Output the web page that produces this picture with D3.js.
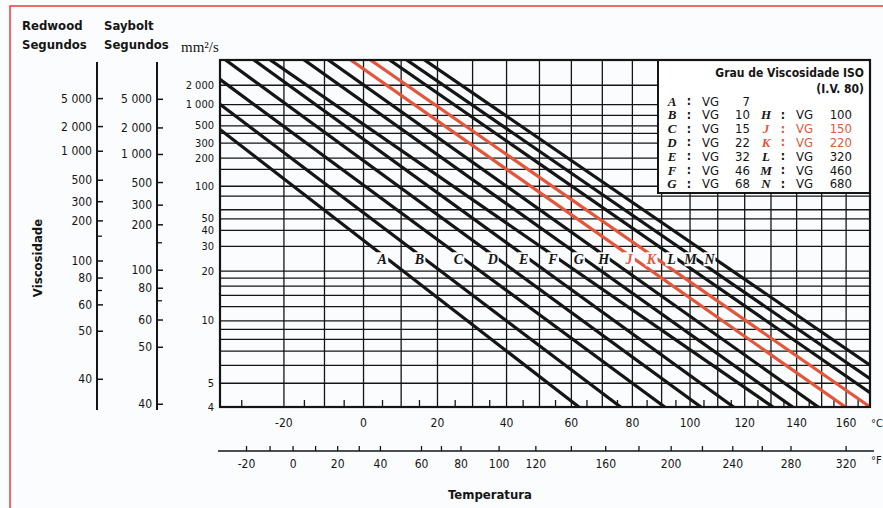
<!DOCTYPE html>
<html>
<head>
<meta charset="utf-8">
<script src="https://cdn.jsdelivr.net/npm/d3@7"></script>
<style>
  body { margin: 0; background: #ffffff; }
  svg { display: block; }
</style>
</head>
<body>
<div id="chart"></div>
<script>
// ISO viscosity grades (letter, mm2/s at 40 C, mm2/s at 100 C)
var gradeLetters = ["A", "B", "C", "D", "E", "F", "G", "H", "J", "K", "L", "M", "N"];
var gradeVG = [7, 10, 15, 22, 32, 46, 68, 100, 150, 220, 320, 460, 680];
var visc100 = [2.05, 2.6, 3.4, 4.3, 5.4, 7.1, 8.5, 10.6, 13.5, 17, 21, 26, 32.5];
var redGrades = ["J", "K"];

// kinematic viscosity axis
var viscTicks = [2000, 1000, 500, 300, 200, 100, 50, 40, 30, 20, 10, 5, 4];
var viscTickLabels = ["2 000", "1 000", "500", "300", "200", "100", "50", "40", "30", "20", "10", "5", "4"];
var viscGrid = [4, 5, 6, 7, 8, 9, 10, 12, 14, 16, 18, 20, 30, 40, 50, 60, 80, 100, 150, 200, 300, 400, 500, 700, 1000, 2000];

// temperature axes
var tempCLabels = [-20, 0, 20, 40, 60, 80, 100, 120, 140, 160];
var tempCGrid = [-20, -10, 0, 10, 20, 30, 40, 50, 60, 70, 80, 90, 100, 110, 120, 130, 140, 150, 160];
var tempCMinor = [-30, -15, -5, 5, 15, 25, 35, 45, 55, 65, 75, 85, 95, 105, 115, 125, 135, 145, 155, 165];
var tempFLabels = [-20, 0, 20, 40, 60, 80, 100, 120, 160, 200, 240, 280, 320];
var tempFTicks = [-20, -10, 0, 10, 20, 30, 40, 60, 70, 80, 100, 120, 140, 160, 180, 200, 220, 240, 260, 280, 320];

// Redwood / Saybolt seconds and the mm2/s they line up with
var redwoodSec = [5000, 2000, 1000, 500, 300, 200, 100, 80, 60, 50, 40];
var redwoodCst = [1230, 490, 240, 115, 71, 48, 23.5, 18, 12.3, 8.8, 5.2];
var redwoodMinorCst = [36, 15];
var sayboltSec = [5000, 2000, 1000, 500, 300, 200, 100, 80, 60, 50, 40];
var sayboltCst = [1200, 470, 220, 109, 66, 44.5, 20.3, 15.5, 10.1, 7.3, 4.1];
var sayboltMinorCst = [32, 13];

var width = 883, height = 508;
var plot = { left: 220, right: 870, top: 60, bottom: 407 };
var narrow = '"Liberation Sans Narrow", "DejaVu Sans Condensed", "Arial Narrow", sans-serif';
var serif = '"Liberation Serif", "Times New Roman", serif';
var ink = "#151515";
var red = "#e2573b";

// ASTM style scales: log of absolute temperature, log-log of viscosity
function LL(v) { return Math.log10(Math.log10(v + 0.7)); }
var xs = d3.scaleLog().domain([-35 + 273.15, 170 + 273.15]).range([plot.left, plot.right]);
function x(tC) { return xs(tC + 273.15); }
var yL = d3.scaleLinear().domain([LL(4), LL(5500)]).range([plot.bottom, plot.top]);
function y(v) { return yL(LL(v)); }

// straight line of a grade through its 40 C and 100 C points
function gradeL(i, tC) {
  var t1 = Math.log10(313.15), t2 = Math.log10(373.15);
  var l1 = LL(gradeVG[i]), l2 = LL(visc100[i]);
  var t = Math.log10(tC + 273.15);
  return l1 + (l2 - l1) * (t - t1) / (t2 - t1);
}
function gradeTempAt(i, v) {
  var t1 = Math.log10(313.15), t2 = Math.log10(373.15);
  var l1 = LL(gradeVG[i]), l2 = LL(visc100[i]);
  return Math.pow(10, t1 + (LL(v) - l1) * (t2 - t1) / (l2 - l1)) - 273.15;
}
function isRed(i) { return redGrades.indexOf(gradeLetters[i]) >= 0; }

var svg = d3.select("#chart").append("svg")
  .attr("width", width)
  .attr("height", height);

svg.append("rect").attr("width", width).attr("height", height).attr("fill", "#fbfcfe");
// red frame of the scan
svg.append("rect")
  .attr("x", 10).attr("y", 6).attr("width", 1000).attr("height", 1000)
  .attr("fill", "none").attr("stroke", "#ee3a3a").attr("stroke-width", 1.5);

svg.append("clipPath").attr("id", "plotclip")
  .append("rect")
  .attr("x", plot.left).attr("y", plot.top)
  .attr("width", plot.right - plot.left).attr("height", plot.bottom - plot.top);

var g = svg.append("g");

// horizontal grid
g.selectAll("line.hgrid").data(viscGrid).enter().append("line")
  .attr("class", "hgrid")
  .attr("x1", plot.left).attr("x2", plot.right)
  .attr("y1", d => y(d)).attr("y2", d => y(d))
  .attr("stroke", ink).attr("stroke-width", 1.3);

// vertical grid
g.selectAll("line.vgrid").data(tempCGrid).enter().append("line")
  .attr("class", "vgrid")
  .attr("x1", d => x(d)).attr("x2", d => x(d))
  .attr("y1", plot.top).attr("y2", plot.bottom)
  .attr("stroke", ink).attr("stroke-width", 1.3);

// small ticks on the bottom edge
g.selectAll("line.minor").data(tempCMinor).enter().append("line")
  .attr("class", "minor")
  .attr("x1", d => x(d)).attr("x2", d => x(d))
  .attr("y1", plot.bottom).attr("y2", plot.bottom - 7)
  .attr("stroke", ink).attr("stroke-width", 1.3);

// grade lines, black first then the red ones on top
var lineGen = d3.line().x(d => d[0]).y(d => d[1]);
var order = d3.range(gradeLetters.length).sort((a, b) => isRed(a) - isRed(b));

g.append("g").attr("clip-path", "url(#plotclip)")
  .selectAll("path").data(order).enter().append("path")
  .attr("d", i => lineGen([[x(-35), yL(gradeL(i, -35))], [x(170), yL(gradeL(i, 170))]]))
  .attr("fill", "none")
  .attr("stroke", i => isRed(i) ? red : ink)
  .attr("stroke-width", 3.2);

// letters sitting on the lines at 25 mm2/s
var lab = g.selectAll("g.glabel").data(d3.range(gradeLetters.length)).enter().append("g")
  .attr("class", "glabel")
  .attr("transform", i => `translate(${x(gradeTempAt(i, 25)) - 3}, ${y(25) + 2})`);

lab.append("rect")
  .attr("x", -6).attr("y", -7).attr("width", 12).attr("height", 14)
  .attr("fill", "#fbfcfe");

lab.append("text")
  .text(i => gradeLetters[i])
  .attr("text-anchor", "middle")
  .attr("dominant-baseline", "central")
  .attr("font-family", serif)
  .attr("font-style", "italic")
  .attr("font-weight", "bold")
  .attr("font-size", 14)
  .attr("fill", i => isRed(i) ? red : ink);

// legend box
var leg = { x: 658, y: plot.top, w: plot.right - 658, h: 133 };
g.append("rect")
  .attr("x", leg.x).attr("y", leg.y).attr("width", leg.w).attr("height", leg.h)
  .attr("fill", "#ffffff").attr("stroke", ink).attr("stroke-width", 2);

g.append("text").text("Grau de Viscosidade ISO")
  .attr("x", plot.right - 6).attr("y", 77)
  .attr("text-anchor", "end").attr("font-family", narrow)
  .attr("font-weight", "bold").attr("font-size", 12).attr("fill", ink);
g.append("text").text("(I.V. 80)")
  .attr("x", plot.right - 6).attr("y", 93)
  .attr("text-anchor", "end").attr("font-family", narrow)
  .attr("font-weight", "bold").attr("font-size", 12).attr("fill", ink);

var rows = g.selectAll("g.lrow").data(d3.range(gradeLetters.length)).enter().append("g")
  .attr("class", "lrow")
  .attr("transform", i => {
    var col = i < 7 ? 0 : 1;
    var row = i < 7 ? i : i - 6;
    return `translate(${col === 0 ? 672 : 766}, ${101 + row * 13.8})`;
  });

rows.append("text").text(i => gradeLetters[i])
  .attr("x", 0).attr("text-anchor", "middle")
  .attr("font-family", serif).attr("font-style", "italic").attr("font-weight", "bold")
  .attr("font-size", 13);
rows.append("text").text(":")
  .attr("x", 17).attr("text-anchor", "middle")
  .attr("font-family", narrow).attr("font-weight", "bold").attr("font-size", 12);
rows.append("text").text("VG")
  .attr("x", 30)
  .attr("font-family", narrow).attr("font-size", 13);
rows.append("text").text(i => gradeVG[i])
  .attr("x", i => i < 7 ? 78 : 86).attr("text-anchor", "end")
  .attr("font-family", narrow).attr("font-size", 13);
rows.selectAll("text")
  .attr("fill", function () {
    return isRed(d3.select(this.parentNode).datum()) ? red : ink;
  })
  .attr("dominant-baseline", "central");

// plot frame
g.append("rect")
  .attr("x", plot.left).attr("y", plot.top)
  .attr("width", plot.right - plot.left).attr("height", plot.bottom - plot.top)
  .attr("fill", "none").attr("stroke", ink).attr("stroke-width", 2.2);

// viscosity labels
g.selectAll("text.vlab").data(viscTicks).enter().append("text")
  .attr("class", "vlab")
  .text((d, i) => viscTickLabels[i])
  .attr("x", plot.left - 6).attr("y", d => y(d))
  .attr("text-anchor", "end").attr("dominant-baseline", "central")
  .attr("font-family", narrow).attr("font-size", 11).attr("fill", ink);

// Celsius labels
g.selectAll("text.clab").data(tempCLabels).enter().append("text")
  .attr("class", "clab")
  .text(d => d)
  .attr("x", d => x(d)).attr("y", plot.bottom + 16)
  .attr("text-anchor", "middle").attr("dominant-baseline", "central")
  .attr("font-family", narrow).attr("font-size", 12).attr("fill", ink);
g.append("text").text("°C")
  .attr("x", plot.right + 1).attr("y", plot.bottom + 16)
  .attr("dominant-baseline", "central")
  .attr("font-family", narrow).attr("font-size", 11).attr("fill", ink);

// Fahrenheit axis
var fY = 451;
function fToC(f) { return (f - 32) * 5 / 9; }
g.append("line")
  .attr("x1", plot.left - 2).attr("x2", plot.right + 4)
  .attr("y1", fY).attr("y2", fY)
  .attr("stroke", ink).attr("stroke-width", 1.6);
g.selectAll("line.ftick").data(tempFTicks).enter().append("line")
  .attr("class", "ftick")
  .attr("x1", d => x(fToC(d))).attr("x2", d => x(fToC(d)))
  .attr("y1", fY).attr("y2", fY - 5)
  .attr("stroke", ink).attr("stroke-width", 1.3);
g.selectAll("text.flab").data(tempFLabels).enter().append("text")
  .attr("class", "flab")
  .text(d => d)
  .attr("x", d => x(fToC(d))).attr("y", fY + 13)
  .attr("text-anchor", "middle").attr("dominant-baseline", "central")
  .attr("font-family", narrow).attr("font-size", 12).attr("fill", ink);
g.append("text").text("°F")
  .attr("x", plot.right + 1).attr("y", fY + 9)
  .attr("dominant-baseline", "central")
  .attr("font-family", narrow).attr("font-size", 11).attr("fill", ink);

g.append("text").text("Temperatura")
  .attr("x", 490).attr("y", 494)
  .attr("text-anchor", "middle").attr("dominant-baseline", "central")
  .attr("font-family", narrow).attr("font-weight", "bold").attr("font-size", 13).attr("fill", ink);

// Redwood and Saybolt side scales
function sideScale(axisX, secs, csts, minors) {
  var s = svg.append("g");
  s.append("line")
    .attr("x1", axisX).attr("x2", axisX)
    .attr("y1", 62).attr("y2", 410)
    .attr("stroke", ink).attr("stroke-width", 2);
  s.selectAll("line.major").data(csts).enter().append("line")
    .attr("x1", axisX).attr("x2", axisX + 6)
    .attr("y1", d => y(d)).attr("y2", d => y(d))
    .attr("stroke", ink).attr("stroke-width", 1.5);
  s.selectAll("line.minorT").data(minors).enter().append("line")
    .attr("x1", axisX).attr("x2", axisX + 5)
    .attr("y1", d => y(d)).attr("y2", d => y(d))
    .attr("stroke", ink).attr("stroke-width", 1.3);
  s.selectAll("text").data(csts).enter().append("text")
    .text((d, i) => d3.format(",")(secs[i]).replace(",", " "))
    .attr("x", axisX - 5).attr("y", d => y(d))
    .attr("text-anchor", "end").attr("dominant-baseline", "central")
    .attr("font-family", narrow).attr("font-size", 12).attr("fill", ink);
}
sideScale(97, redwoodSec, redwoodCst, redwoodMinorCst);
sideScale(157, sayboltSec, sayboltCst, sayboltMinorCst);

// headers
var heads = [["Redwood", 22], ["Saybolt", 104]];
heads.forEach(function (h) {
  svg.append("text").text(h[0])
    .attr("x", h[1]).attr("y", 30)
    .attr("font-family", narrow).attr("font-weight", "bold").attr("font-size", 13).attr("fill", ink);
  svg.append("text").text("Segundos")
    .attr("x", h[1]).attr("y", 49)
    .attr("font-family", narrow).attr("font-weight", "bold").attr("font-size", 13).attr("fill", ink);
});
svg.append("text").text("mm²/s")
  .attr("x", 181).attr("y", 52)
  .attr("font-family", serif).attr("font-size", 15).attr("fill", ink);

svg.append("text").text("Viscosidade")
  .attr("transform", "translate(37, 258) rotate(-90)")
  .attr("text-anchor", "middle").attr("dominant-baseline", "central")
  .attr("font-family", narrow).attr("font-weight", "bold").attr("font-size", 13).attr("fill", ink);
</script>
</body>
</html>
